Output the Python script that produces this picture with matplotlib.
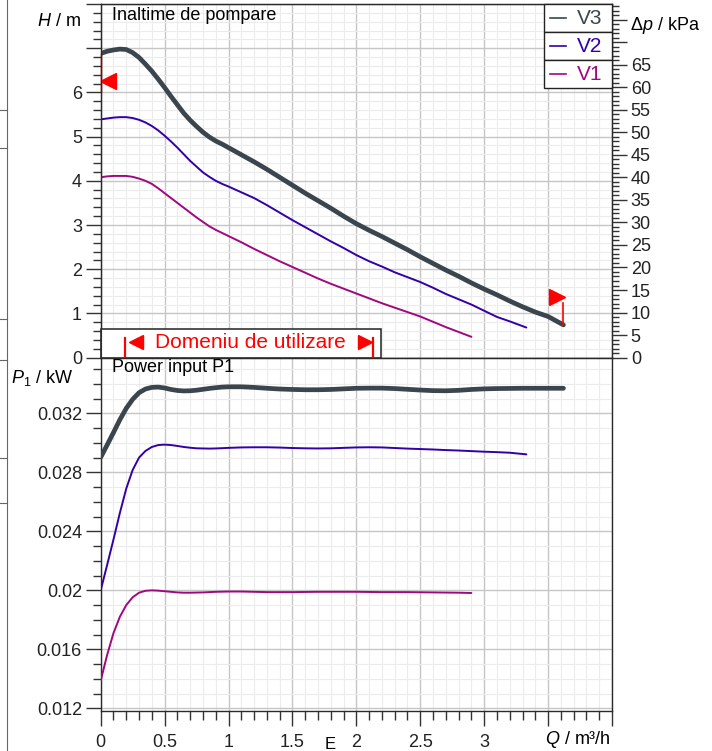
import numpy as np
import matplotlib.pyplot as plt
from matplotlib.patches import Rectangle
from matplotlib.lines import Line2D
from matplotlib.ticker import MultipleLocator, FuncFormatter

plt.rcParams['font.family'] = ['Liberation Sans', 'DejaVu Sans']
plt.rcParams['mathtext.fontset'] = 'custom'
plt.rcParams['mathtext.rm'] = 'Liberation Sans'
plt.rcParams['mathtext.it'] = 'Liberation Sans:italic'

# debit Q [m3/h]: pas 0.05 la inceput (zona curbata), apoi 0.1, plus capatul curbei
q_head = np.round(np.arange(0, 0.96, 0.05), 2)
q_v3 = np.concatenate([q_head, np.round(np.arange(1.0, 3.51, 0.1), 2), [3.62]])
q_v2 = np.concatenate([q_head, np.round(np.arange(1.0, 3.21, 0.1), 2), [3.33]])
q_v1 = np.concatenate([q_head, np.round(np.arange(1.0, 2.91, 0.1), 2)])

# inaltimea de pompare H [m]
h_v3 = [6.88, 6.93, 6.96, 6.98, 6.97, 6.90, 6.79, 6.64, 6.48, 6.30,
        6.11, 5.91, 5.72, 5.53, 5.37, 5.23, 5.10, 4.99, 4.90, 4.83] + \
       [4.75, 4.59, 4.43, 4.26, 4.08, 3.90, 3.72, 3.55, 3.38, 3.20, 3.03, 2.88, 2.74,
        2.59, 2.44, 2.28, 2.13, 1.98, 1.84, 1.69, 1.55, 1.42, 1.28, 1.15, 1.03, 0.93] + [0.74]
h_v2 = [5.39, 5.41, 5.43, 5.44, 5.44, 5.42, 5.38, 5.32, 5.24, 5.14,
        5.02, 4.89, 4.75, 4.60, 4.45, 4.32, 4.19, 4.09, 4.00, 3.93] + \
       [3.87, 3.74, 3.61, 3.45, 3.28, 3.11, 2.95, 2.79, 2.63, 2.48, 2.32, 2.18,
        2.06, 1.93, 1.82, 1.71, 1.58, 1.44, 1.32, 1.20, 1.06, 0.92, 0.82] + [0.68]
h_v1 = [4.08, 4.10, 4.11, 4.11, 4.11, 4.09, 4.05, 4.00, 3.93, 3.83,
        3.72, 3.61, 3.50, 3.39, 3.28, 3.17, 3.07, 2.97, 2.89, 2.82] + \
       [2.75, 2.61, 2.46, 2.32, 2.18, 2.05, 1.92, 1.79, 1.67, 1.56, 1.45, 1.34,
        1.23, 1.13, 1.03, 0.93, 0.81, 0.69, 0.58, 0.47]

# puterea absorbita P1 [kW]
p_v3 = [0.02902, 0.02985, 0.03070, 0.03157, 0.03234, 0.03295, 0.03340, 0.03365,
        0.03376, 0.03378, 0.03372, 0.03362, 0.03355, 0.03352, 0.03353, 0.03357,
        0.03363, 0.03369, 0.03374, 0.03378] + \
       [0.03380, 0.03380, 0.03376, 0.03370, 0.03365, 0.03362, 0.03360, 0.03360,
        0.03362, 0.03366, 0.03370, 0.03371, 0.03371, 0.03368, 0.03363, 0.03358,
        0.03354, 0.03353, 0.03356, 0.03362, 0.03366, 0.03368, 0.03369, 0.03370,
        0.03370, 0.03370] + [0.03370]
p_v2 = [0.02000, 0.02171, 0.02345, 0.02525, 0.02690, 0.02816, 0.02900, 0.02945,
        0.02972, 0.02985, 0.02988, 0.02985, 0.02979, 0.02972, 0.02967, 0.02963,
        0.02962, 0.02961, 0.02962, 0.02964] + \
       [0.02966, 0.02969, 0.02970, 0.02970, 0.02968, 0.02965, 0.02963, 0.02962,
        0.02963, 0.02966, 0.02969, 0.02970, 0.02969, 0.02965, 0.02961, 0.02958,
        0.02955, 0.02951, 0.02948, 0.02944, 0.02940, 0.02937, 0.02933] + [0.02922]
p_v1 = [0.01387, 0.01561, 0.01710, 0.01821, 0.01900, 0.01953, 0.01984, 0.01997,
        0.02000, 0.01998, 0.01994, 0.01990, 0.01986, 0.01984, 0.01984, 0.01985,
        0.01986, 0.01988, 0.01990, 0.01991] + \
       [0.01992, 0.01992, 0.01990, 0.01988, 0.01988, 0.01988, 0.01989, 0.01990,
        0.01990, 0.01990, 0.01990, 0.01989, 0.01988, 0.01988, 0.01988, 0.01987,
        0.01986, 0.01985, 0.01984, 0.01982]

series_names = ['V3', 'V2', 'V1']
series_q = [q_v3, q_v2, q_v1]
series_h = [h_v3, h_v2, h_v1]
series_p = [p_v3, p_v2, p_v1]
series_colors = ['#3b454d', '#3300a8', '#a0087e']
series_widths = [3.4, 1.4, 1.4]

# domeniul de utilizare si marcajele rosii
domain_q = [0.19, 2.13]
left_mark_h = [6.0, 6.88]
right_mark_q = 3.62
right_mark_h = [0.74, 1.23]

RHO_G = 9.81  # kPa per m
W, HP = 712, 751


def fx(px):
    return px / W


def fy(py):
    return 1 - py / HP


fig = plt.figure(figsize=(W / 100, HP / 100), dpi=100)
L, R, T, M, B = 100.7, 612, 4, 357.6, 710.7
ax_h = fig.add_axes([fx(L), fy(M), fx(R) - fx(L), fy(T) - fy(M)])
ax_p = fig.add_axes([fx(L), fy(B), fx(R) - fx(L), fy(M) - fy(B)], sharex=ax_h)

tick_kw = dict(direction='out', color='#333333', labelsize=13, labelcolor='#222222', width=1)

for ax in (ax_h, ax_p):
    ax.set_axisbelow(True)
    ax.grid(which='major', color='#c6c6c6', lw=1.0)
    ax.grid(which='minor', color='#ececec', lw=0.8)
    for s in ax.spines.values():
        s.set_color('#2a2a2a')
        s.set_linewidth(1.0)

ax_p.set_xlim(0, 4)
ax_p.xaxis.set_major_locator(MultipleLocator(0.5))
ax_p.xaxis.set_minor_locator(MultipleLocator(0.1))
ax_p.xaxis.set_major_formatter(FuncFormatter(lambda v, p: f'{v:g}' if v <= 3.01 else ''))
ax_p.tick_params(axis='x', which='major', length=10.5, pad=6, **tick_kw)
ax_p.tick_params(axis='x', which='minor', length=6.5, **tick_kw)
ax_h.tick_params(axis='x', which='both', bottom=False, labelbottom=False)

# panoul de sus: H
ax_h.set_ylim(0, 8)
ax_h.yaxis.set_major_locator(MultipleLocator(1))
ax_h.yaxis.set_minor_locator(MultipleLocator(0.2))
ax_h.yaxis.set_major_formatter(FuncFormatter(lambda v, p: f'{v:g}' if v <= 6.01 else ''))
ax_h.tick_params(axis='y', which='major', length=10.5, pad=3, **tick_kw)
ax_h.tick_params(axis='y', which='minor', length=6, **tick_kw)

ax_dp = ax_h.twinx()
ax_dp.set_ylim(0, 8 * RHO_G)
ax_dp.yaxis.set_major_locator(MultipleLocator(5))
ax_dp.yaxis.set_minor_locator(MultipleLocator(1))
ax_dp.yaxis.set_major_formatter(FuncFormatter(lambda v, p: f'{v:g}' if v <= 65.1 else ''))
ax_dp.tick_params(axis='y', which='major', length=10.5, pad=3, **tick_kw)
ax_dp.tick_params(axis='y', which='minor', length=5.3, **tick_kw)
for s in ax_dp.spines.values():
    s.set_color('#2a2a2a')

# panoul de jos: P1
ax_p.set_ylim(0.01184, 0.03578)
ax_p.yaxis.set_major_locator(MultipleLocator(0.004))
ax_p.yaxis.set_minor_locator(MultipleLocator(0.001))
ax_p.yaxis.set_major_formatter(FuncFormatter(lambda v, p: f'{v:g}'))
ax_p.tick_params(axis='y', which='major', length=10.5, pad=3, **tick_kw)
ax_p.tick_params(axis='y', which='minor', length=6, **tick_kw)

for q, h, p, c, lw in zip(series_q, series_h, series_p, series_colors, series_widths):
    ax_h.plot(q, h, color=c, lw=lw, solid_capstyle='round', solid_joinstyle='round', zorder=3)
    ax_p.plot(q, p, color=c, lw=lw, solid_capstyle='round', solid_joinstyle='round', zorder=3)

# caseta domeniu de utilizare
ax_h.add_patch(Rectangle((0, 0), 2.19, 0.645, facecolor='white', edgecolor='#222222',
                         lw=1.1, zorder=4, clip_on=False))
for qd in domain_q:
    ax_h.plot([qd, qd], [0, 0.45], color='red', lw=1.6, zorder=5)
ax_h.plot([0.28], [0.35], marker='<', ms=9.5, color='red', zorder=5, ls='none')
ax_h.plot([2.065], [0.35], marker='>', ms=9.5, color='red', zorder=5, ls='none')
ax_h.text(1.169, 0.35, 'Domeniu de utilizare', color='red', fontsize=15,
          ha='center', va='center', zorder=6)

# marcaje limita
ax_h.plot([0, 0], left_mark_h, color='#b00000', lw=1.0, zorder=6, clip_on=False)
ax_h.plot([0.057], [6.25], marker='<', ms=11, color='red', ls='none', zorder=6)
ax_h.plot([right_mark_q] * 2, right_mark_h, color='red', lw=1.2, zorder=6)
ax_h.plot([3.57], [1.38], marker='>', ms=11, color='red', ls='none', zorder=6)

# legenda cu casute
row_top = [4, 32, 60]
for name, c, yt in zip(series_names, series_colors, row_top):
    fig.add_artist(Rectangle((fx(544), fy(yt + 28)), fx(612) - fx(544), fy(yt) - fy(yt + 28),
                             transform=fig.transFigure, facecolor='white',
                             edgecolor='#222222', lw=1.0, zorder=10))
    yc = fy(yt + 14)
    fig.add_artist(Line2D([fx(550), fx(566)], [yc, yc], transform=fig.transFigure,
                          color=c, lw=1.2, zorder=11))
    fig.text(fx(577), yc, name, color=c, fontsize=15, ha='left', va='center', zorder=12)

# texte
fig.text(fx(112), fy(15), 'Inaltime de pompare', fontsize=13, ha='left', va='center')
fig.text(fx(112), fy(368), 'Power input P1', fontsize=13, ha='left', va='center')
fig.text(fx(81), fy(22), r'$H$ / m', fontsize=13, ha='right', va='center')
fig.text(fx(630), fy(25), r'Δ$p$ / kPa', fontsize=13, ha='left', va='center')
fig.text(fx(11), fy(378), r'$P_{\mathrm{1}}$ / kW', fontsize=13, ha='left', va='center')
fig.text(fx(611), fy(740), r'$Q$ / m³/h', fontsize=13, ha='right', va='center')
fig.text(fx(330), fy(737), 'E', fontsize=12, ha='center', va='top')

# resturi de chenar in stanga imaginii
fig.add_artist(Line2D([fx(7), fx(7)], [0, 1], transform=fig.transFigure, color='#666666', lw=0.8))
for ys in [110, 148, 319, 360, 458, 503]:
    fig.add_artist(Line2D([0, fx(7)], [fy(ys), fy(ys)], transform=fig.transFigure,
                          color='#666666', lw=0.8))

fig.savefig('out.png', dpi=100)
